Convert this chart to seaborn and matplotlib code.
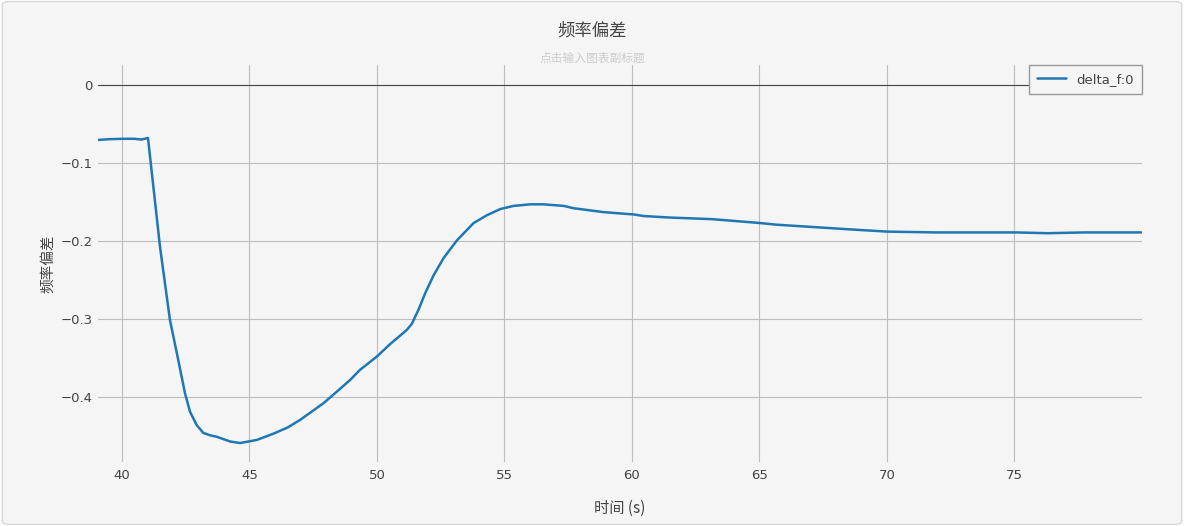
import matplotlib
matplotlib.use("Agg")
import matplotlib.pyplot as plt
from matplotlib.patches import FancyBboxPatch
import pandas as pd
import seaborn as sns

# 时间 (s) 与 频率偏差
time_s = [39.06, 39.5, 40.0, 40.5, 40.75, 41.02, 41.23, 41.49, 41.88, 42.21,
          42.47, 42.67, 42.93, 43.19, 43.45, 43.72, 44.24, 44.63, 45.29, 45.94,
          46.5, 47.0, 47.9, 48.5, 48.95, 49.34, 50.0, 50.52, 51.17, 51.37,
          51.63, 51.89, 52.22, 52.61, 53.14, 53.79, 54.31, 54.84, 55.36, 56.01,
          56.53, 57.32, 57.71, 58.89, 60.07, 60.46, 61.51, 63.14, 65.03, 65.63,
          67.53, 68.99, 70.04, 71.91, 73.37, 75.03, 76.3, 77.76, 79.98]
delta_f = [-0.0705, -0.0695, -0.069, -0.069, -0.070, -0.068, -0.130, -0.207, -0.301, -0.353,
           -0.395, -0.419, -0.436, -0.446, -0.449, -0.451, -0.457, -0.459, -0.455, -0.447,
           -0.439, -0.429, -0.408, -0.391, -0.378, -0.365, -0.348, -0.332, -0.314, -0.306,
           -0.288, -0.267, -0.244, -0.222, -0.199, -0.177, -0.167, -0.159, -0.155, -0.153,
           -0.153, -0.155, -0.158, -0.163, -0.166, -0.168, -0.170, -0.172, -0.177, -0.179,
           -0.183, -0.186, -0.188, -0.189, -0.189, -0.189, -0.190, -0.189, -0.189]

x_ticks = [40, 45, 50, 55, 60, 65, 70, 75]
y_ticks = [0, -0.1, -0.2, -0.3, -0.4]
y_tick_labels = ["0", "\u22120.1", "\u22120.2", "\u22120.3", "\u22120.4"]

bg = "#f5f5f5"
sns.set_style("whitegrid", {"axes.facecolor": bg, "grid.color": "#bdbdbd"})
plt.rcParams["font.family"] = ["DejaVu Sans", "Noto Sans CJK SC"]
cjk = ["Noto Sans CJK SC", "DejaVu Sans"]

df = pd.DataFrame({"时间 (s)": time_s, "delta_f:0": delta_f})

fig = plt.figure(figsize=(11.84, 5.26), dpi=100, facecolor="white")
fig.patches.append(FancyBboxPatch((0.002, 0.003), 0.996, 0.994,
                                  boxstyle="round,pad=0,rounding_size=0.006",
                                  transform=fig.transFigure, facecolor=bg,
                                  edgecolor="#d6d6d6", linewidth=1.0, zorder=-10))
ax = fig.add_axes([98 / 1184, 1 - 462 / 526, (1142 - 98) / 1184, (462 - 65) / 526])
ax.set_facecolor(bg)

sns.lineplot(data=df, x="时间 (s)", y="delta_f:0", ax=ax, color="#1f77b4",
             linewidth=1.8, label="delta_f:0", zorder=3)
ax.axhline(0, color="#444444", linewidth=0.8, zorder=2)

ax.set_xlim(39.06, 80.0)
ax.set_ylim(-0.4833, 0.0256)
ax.set_xticks(x_ticks)
ax.set_yticks(y_ticks)
ax.set_yticklabels(y_tick_labels)
ax.grid(True, color="#bdbdbd", linewidth=0.8)
ax.tick_params(axis="both", length=0, labelsize=9.5, colors="#444444")
ax.tick_params(axis="x", pad=5)
ax.tick_params(axis="y", pad=4)
for s in ax.spines.values():
    s.set_visible(False)

ax.set_xlabel("时间 (s)", fontsize=11, color="#444444", labelpad=13, family=cjk)
ax.set_ylabel("频率偏差", fontsize=10.5, color="#444444", labelpad=4, family=cjk)

leg = ax.legend(loc="upper right", frameon=True, fancybox=False, fontsize=9.5,
                borderaxespad=0, handlelength=2.2, borderpad=0.6)
leg.get_frame().set_edgecolor("#999999")
leg.get_frame().set_facecolor(bg)
leg.get_frame().set_alpha(1)
leg.get_frame().set_linewidth(1.0)
for t in leg.get_texts():
    t.set_color("#444444")

fig.text(0.5, 1 - 31 / 526, "频率偏差", ha="center", va="center", fontsize=12.5,
         color="#444444", family=cjk)
fig.text(0.5, 1 - 58 / 526, "点击输入图表副标题", ha="center", va="center", fontsize=8.5,
         color="#cccccc", family=cjk)

fig.savefig("out.png", dpi=100, facecolor=fig.get_facecolor())
